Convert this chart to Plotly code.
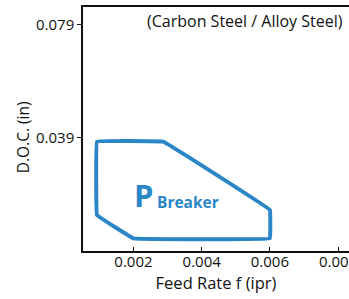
import plotly.graph_objects as go

# Breaker region polygon (feed rate in ipr, depth of cut in inches)
feed = [0.00093, 0.00287, 0.0060, 0.0060, 0.0020, 0.00093, 0.00093]
doc = [0.0376, 0.0376, 0.0135, 0.0035, 0.0035, 0.0117, 0.0376]

x_ticks = [0.002, 0.004, 0.006, 0.008]
x_labels = ["0.002", "0.004", "0.006", "0.008"]
y_ticks = [0.039, 0.079]
y_labels = ["0.039", "0.079"]

blue = "#2b86c8"
font = "Open Sans"

fig = go.Figure()
fig.add_trace(go.Scatter(
    x=feed, y=doc, mode="lines",
    line=dict(color=blue, width=4, shape="spline", smoothing=0.1),
    hoverinfo="skip", showlegend=False,
))

fig.add_annotation(x=0.0023, y=0.0189, xref="x", yref="y", text="<b>P</b>",
                   showarrow=False, font=dict(family=font, size=31, color=blue))
fig.add_annotation(x=0.00361, y=0.0163, xref="x", yref="y", text="<b>Breaker</b>",
                   showarrow=False, font=dict(family=font, size=15.5, color=blue))
fig.add_annotation(x=0.985, y=0.995, xref="paper", yref="paper", xanchor="right", yanchor="top",
                   text="(Carbon Steel / Alloy Steel)", showarrow=False,
                   font=dict(family=font, size=16, color="#111"))
fig.add_annotation(x=-0.2256, y=0.466, xref="paper", yref="paper", textangle=-90,
                   xanchor="center", yanchor="middle",
                   text="D.O.C. (in)", showarrow=False,
                   font=dict(family=font, size=15.5, color="#111"))

fig.update_layout(
    width=349, height=299,
    margin=dict(l=83, r=0, t=7, b=48),
    paper_bgcolor="white", plot_bgcolor="white",
    font=dict(family=font, size=15, color="#111"),
    xaxis=dict(range=[0.00052, 0.00832], tickvals=x_ticks, ticktext=x_labels,
               ticks="inside", ticklen=4, tickcolor="#111", showline=True, linecolor="#111",
               linewidth=1.5, mirror=True, showgrid=False, zeroline=False, automargin=False,
               ticklabelstandoff=-4, ticklabeloverflow="allow",
               title=dict(text="Feed Rate f (ipr)", font=dict(size=16.5), standoff=6)),
    yaxis=dict(range=[-0.00096, 0.0851], tickvals=y_ticks, ticktext=y_labels,
               ticks="outside", ticklen=4, tickcolor="#111", showline=True, linecolor="#111",
               linewidth=1.5, showgrid=False, zeroline=False, automargin=False),
)

fig.write_html("out.html", config={"displayModeBar": False},
               post_script="document.body.style.margin='0';document.body.style.overflow='hidden';")
